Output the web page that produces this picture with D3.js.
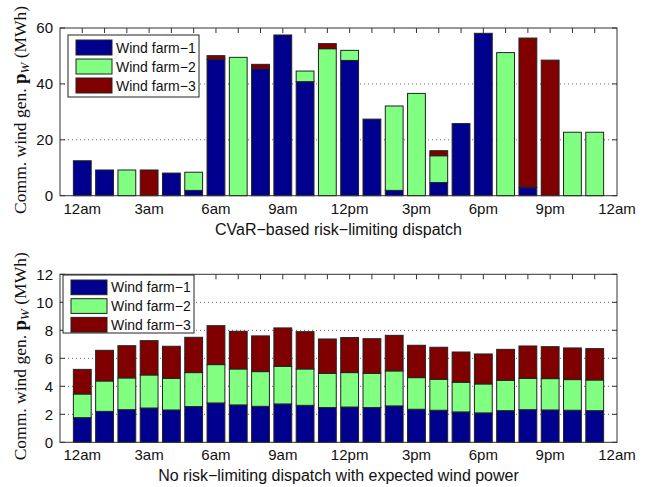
<!DOCTYPE html>
<html><head><meta charset="utf-8">
<script src="https://cdn.jsdelivr.net/npm/d3@7"></script>
<style>body{margin:0;background:#fff}svg{display:block}</style>
</head><body>
<script>
// ---- data ----
const hours = d3.range(1, 25);
const tickPositions = [1, 4, 7, 10, 13, 16, 19, 22, 25];
const tickLabels = ["12am","3am","6am","9am","12pm","3pm","6pm","9pm","12am"];
const seriesNames = ["Wind farm\u22121","Wind farm\u22122","Wind farm\u22123"];
const colors = ["#00008f","#80ff80","#800000"];

// CVaR-based risk-limiting dispatch (MWh)
const cvarFarm1 = [12.5,9.2,0,0,8.1,1.9,48.8,0,45.4,57.5,40.8,0,48.4,27.4,1.9,0,4.7,25.8,58.1,0,3.0,0,0,0];
const cvarFarm2 = [0,0,9.2,0,0,6.5,0,49.5,0,0,3.8,52.6,3.6,0,30.2,36.6,9.6,0,0,51.2,0,0,22.7,22.7];
const cvarFarm3 = [0,0,0,9.2,0,0,1.3,0,1.6,0,0,1.8,0,0,0,0,1.8,0,0,0,53.4,48.5,0,0];

// No risk-limiting dispatch with expected wind power (MWh)
const expFarm1 = [1.76,2.21,2.33,2.45,2.31,2.55,2.81,2.67,2.57,2.74,2.64,2.48,2.52,2.48,2.60,2.36,2.29,2.17,2.10,2.26,2.33,2.31,2.29,2.26];
const expFarm2 = [1.69,2.17,2.27,2.36,2.26,2.43,2.74,2.57,2.48,2.69,2.60,2.45,2.46,2.45,2.50,2.26,2.21,2.12,2.07,2.17,2.24,2.24,2.19,2.19];
const expFarm3 = [1.76,2.19,2.30,2.45,2.29,2.52,2.78,2.69,2.55,2.74,2.66,2.45,2.50,2.47,2.54,2.31,2.29,2.16,2.14,2.21,2.31,2.28,2.26,2.24];

const W = 652, H = 487;
const svg = d3.select("body").append("svg").attr("width", W).attr("height", H);

function panel(cfg) {
  const x = d3.scaleLinear().domain([0, 25]).range([60, 617]);
  const y = d3.scaleLinear().domain([0, cfg.ymax]).range([cfg.bottom, cfg.top]);
  const g = svg.append("g");
  const yTicks = d3.range(0, cfg.ymax + 0.001, cfg.ystep);

  // grid (dotted)
  g.selectAll(".grid").data(yTicks.filter(v => v > 0 && v < cfg.ymax)).join("line")
    .attr("x1", x(0)).attr("x2", x(25))
    .attr("y1", d => y(d)).attr("y2", d => y(d))
    .attr("stroke", "#666").attr("stroke-width", 1).attr("stroke-dasharray", "1,3");

  // ticks: y left/right, x top/bottom (inward)
  const tl = 5;
  yTicks.forEach(v => {
    g.append("line").attr("x1", x(0)).attr("x2", x(0) + tl).attr("y1", y(v)).attr("y2", y(v)).attr("stroke", "#333");
    g.append("line").attr("x1", x(25)).attr("x2", x(25) - tl).attr("y1", y(v)).attr("y2", y(v)).attr("stroke", "#333");
  });
  hours.forEach(h => {
    g.append("line").attr("x1", x(h)).attr("x2", x(h)).attr("y1", y(cfg.ymax)).attr("y2", y(cfg.ymax) + tl).attr("stroke", "#333");
    g.append("line").attr("x1", x(h)).attr("x2", x(h)).attr("y1", y(0)).attr("y2", y(0) - tl).attr("stroke", "#333");
  });

  // stacked bars
  const rows = hours.map((h, i) => ({h, f1: cfg.data[0][i], f2: cfg.data[1][i], f3: cfg.data[2][i]}));
  const stack = d3.stack().keys(["f1","f2","f3"])(rows);
  const bw = x(0.8) - x(0);
  stack.forEach((layer, k) => {
    g.selectAll(null).data(layer.filter(d => d[1] - d[0] > 0)).join("rect")
      .attr("x", d => x(d.data.h) - bw / 2)
      .attr("width", bw)
      .attr("y", d => y(d[1]))
      .attr("height", d => y(d[0]) - y(d[1]))
      .attr("fill", colors[k]).attr("stroke", "#222").attr("stroke-width", 1);
  });

  // frame
  g.append("rect").attr("x", x(0)).attr("y", y(cfg.ymax)).attr("width", x(25) - x(0))
    .attr("height", y(0) - y(cfg.ymax)).attr("fill", "none").attr("stroke", "#333").attr("stroke-width", 1);

  // y tick labels
  g.selectAll(".yl").data(yTicks).join("text")
    .attr("x", 53).attr("y", d => y(d)).attr("dy", "0.36em")
    .attr("text-anchor", "end").attr("font-family", "Liberation Sans, Arial, sans-serif")
    .attr("font-size", 15).attr("fill", "#111").text(d => d);

  // x tick labels
  g.selectAll(".xl").data(tickPositions).join("text")
    .attr("x", d => x(d)).attr("y", cfg.bottom + 18)
    .attr("text-anchor", "middle").attr("font-family", "Liberation Sans, Arial, sans-serif")
    .attr("font-size", 15).attr("fill", "#111").text((d, i) => tickLabels[i]);

  // x title
  g.append("text").attr("x", (x(0) + x(25)) / 2).attr("y", cfg.bottom + 39)
    .attr("text-anchor", "middle").attr("font-family", "Liberation Sans, Arial, sans-serif")
    .attr("font-size", 16).attr("fill", "#111").text(cfg.title);

  // y title
  const yt = g.append("text")
    .attr("transform", `translate(26,${(cfg.top + cfg.bottom) / 2 - 2}) rotate(-90)`)
    .attr("text-anchor", "middle").attr("font-family", "Liberation Serif, Times New Roman, serif")
    .attr("font-size", 17.5).attr("fill", "#111");
  yt.append("tspan").text("Comm. wind gen. ");
  yt.append("tspan").attr("font-weight", "bold").attr("font-size", 19).text("p");
  yt.append("tspan").attr("font-style", "italic").attr("font-size", 13).attr("dy", 3).text("W");
  yt.append("tspan").attr("dy", -3).text(" (MWh)");

  // legend
  const L = cfg.legend;
  g.append("rect").attr("x", L.x).attr("y", L.y).attr("width", L.w).attr("height", L.h)
    .attr("fill", "#fff").attr("stroke", "#222").attr("stroke-width", 1);
  seriesNames.forEach((name, k) => {
    const ry = L.y + 5 + k * L.row;
    g.append("rect").attr("x", L.x + 8).attr("y", ry).attr("width", 36).attr("height", L.row - 4)
      .attr("fill", colors[k]).attr("stroke", "#222").attr("stroke-width", 1);
    g.append("text").attr("x", L.x + 48).attr("y", ry + (L.row - 4) / 2).attr("dy", "0.36em")
      .attr("font-family", "Liberation Sans, Arial, sans-serif").attr("font-size", 14)
      .attr("fill", "#111").text(name);
  });
}

panel({top: 28, bottom: 195.7, ymax: 60, ystep: 20,
  data: [cvarFarm1, cvarFarm2, cvarFarm3],
  title: "CVaR\u2212based risk\u2212limiting dispatch",
  legend: {x: 68, y: 35, w: 131, h: 62, row: 19}});

panel({top: 274.3, bottom: 442.3, ymax: 12, ystep: 2,
  data: [expFarm1, expFarm2, expFarm3],
  title: "No risk\u2212limiting dispatch with expected wind power",
  legend: {x: 63, y: 275, w: 131, h: 58, row: 18.7}});
</script>
</body></html>
